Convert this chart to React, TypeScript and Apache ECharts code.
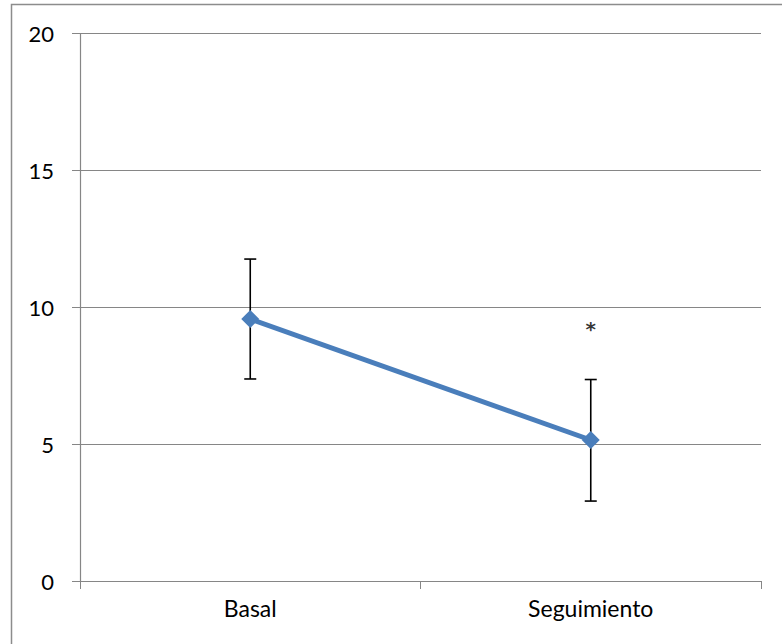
import React, { useEffect, useRef } from "react";
import * as echarts from "echarts";

const categories = ["Basal", "Seguimiento"];
const meanValues = [9.57, 5.15];
const errLow = [7.38, 2.92];
const errHigh = [11.76, 7.36];
const yTicks = { min: 0, max: 20, interval: 5 };
const significance = [[1, 9.35, "*"]];

export default function App() {
  const ref = useRef<HTMLDivElement>(null);
  useEffect(() => {
    const chart = echarts.init(ref.current!, null, { renderer: "svg" });
    const font = "Lato, 'Open Sans', sans-serif";
    chart.setOption({
      animation: false,
      backgroundColor: "#ffffff",
      graphic: [
        {
          type: "rect",
          shape: { x: 11.5, y: 4.5, width: 800, height: 700 },
          style: { fill: "none", stroke: "#8c8c8c", lineWidth: 1.5 },
          silent: true,
        },
      ],
      grid: { left: 80, right: 21, top: 33.5, bottom: 63 },
      xAxis: {
        type: "category",
        data: categories,
        boundaryGap: true,
        axisLine: { show: true, lineStyle: { color: "#868686", width: 1.2 } },
        axisTick: { show: true, length: 8, inside: false, alignWithLabel: false, lineStyle: { color: "#868686" } },
        axisLabel: { color: "#000", fontFamily: font, fontSize: 23, margin: 15 },
      },
      yAxis: {
        type: "value",
        min: yTicks.min,
        max: yTicks.max,
        interval: yTicks.interval,
        axisLine: { show: true, lineStyle: { color: "#868686", width: 1.2 } },
        axisTick: { show: true, length: 8, lineStyle: { color: "#868686" } },
        axisLabel: { color: "#000", fontFamily: font, fontSize: 22, margin: 26 },
        splitLine: { show: true, lineStyle: { color: "#868686", width: 1.2 } },
      },
      series: [
        {
          type: "custom",
          z: 3,
          data: categories.map((_, i) => [i, errLow[i], errHigh[i]]),
          renderItem: (params: any, api: any) => {
            const x = api.value(0);
            const lo = api.coord([x, api.value(1)]);
            const hi = api.coord([x, api.value(2)]);
            const half = 6;
            const style = { stroke: "#000", lineWidth: 1.6 };
            return {
              type: "group",
              children: [
                { type: "line", shape: { x1: hi[0], y1: hi[1], x2: lo[0], y2: lo[1] }, style },
                { type: "line", shape: { x1: hi[0] - half, y1: hi[1], x2: hi[0] + half, y2: hi[1] }, style },
                { type: "line", shape: { x1: lo[0] - half, y1: lo[1], x2: lo[0] + half, y2: lo[1] }, style },
              ],
            };
          },
        },
        {
          type: "line",
          z: 4,
          data: meanValues,
          symbol: "diamond",
          symbolSize: 18,
          lineStyle: { color: "#4a7ebb", width: 5 },
          itemStyle: { color: "#4a7ebb" },
        },
        {
          type: "scatter",
          z: 5,
          data: significance.map((d) => [d[0], d[1]]),
          symbol: "circle",
          symbolSize: 1,
          itemStyle: { color: "rgba(0,0,0,0)" },
          label: {
            show: true,
            position: "inside",
            formatter: () => String(significance[0][2]),
            color: "#000",
            fontFamily: "'DejaVu Sans', sans-serif",
            fontWeight: "bold",
            fontSize: 20,
            offset: [0, 4],
          },
        },
      ],
    });
    return () => chart.dispose();
  }, []);
  return (
    <div
      ref={ref}
      style={{ position: "fixed", left: 0, top: 0, width: 782, height: 644 }}
    />
  );
}
